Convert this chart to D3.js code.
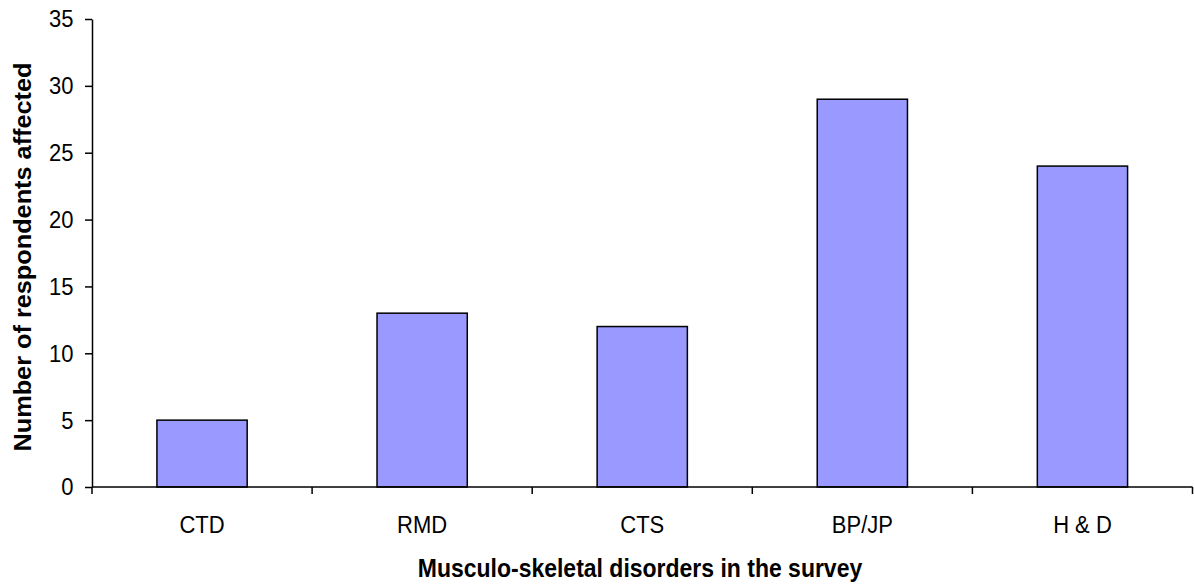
<!DOCTYPE html>
<html>
<head>
<meta charset="utf-8">
<script src="https://cdn.jsdelivr.net/npm/d3@7"></script>
<style>
  html, body { margin: 0; padding: 0; background: #fff; }
  svg { display: block; font-family: "Liberation Sans", Arial, sans-serif; }
</style>
</head>
<body>
<svg id="chart" width="1194" height="585"></svg>
<script>
// Musculo-skeletal disorders reported by respondents
const categories = ["CTD", "RMD", "CTS", "BP/JP", "H & D"];
const respondents = [5, 13, 12, 29, 24];
const yTicks = [0, 5, 10, 15, 20, 25, 30, 35];

const svg = d3.select("#chart");
const margin = { left: 92, right: 1.5, top: 19, bottom: 98 };
const W = 1194, H = 585;
const stretch = 1.1; // text is drawn slightly taller than wide

const x = d3.scaleBand()
  .domain(categories)
  .range([margin.left, W - margin.right])
  .paddingInner(0.59)
  .paddingOuter(0.295);

const y = d3.scaleLinear()
  .domain([0, 35])
  .range([H - margin.bottom, margin.top]);

// bars
svg.append("g")
  .selectAll("rect")
  .data(categories)
  .join("rect")
  .attr("x", (d) => x(d))
  .attr("y", (d, i) => y(respondents[i]))
  .attr("width", x.bandwidth())
  .attr("height", (d, i) => y(0) - y(respondents[i]))
  .attr("fill", "#9999ff")
  .attr("stroke", "#000")
  .attr("stroke-width", 1.5);

// y axis
const yAxis = svg.append("g")
  .attr("transform", `translate(${margin.left},0)`)
  .call(d3.axisLeft(y).tickValues(yTicks).tickSize(7).tickPadding(11.5).tickSizeOuter(0));
yAxis.select(".domain").attr("stroke-width", 1.5);
yAxis.selectAll(".tick line").attr("stroke-width", 1.5);
yAxis.selectAll(".tick text")
  .attr("font-size", 22)
  .attr("fill", "#000")
  .attr("font-family", "Liberation Sans, Arial, sans-serif")
  .attr("dy", "0.33em")
  .attr("transform", `scale(1,${stretch})`);

// x axis with ticks on category boundaries
const boundaries = d3.range(categories.length + 1).map((i) => margin.left + i * (W - margin.right - margin.left) / categories.length);
const xAxisG = svg.append("g").attr("transform", `translate(0,${y(0)})`);
xAxisG.append("line")
  .attr("x1", margin.left).attr("x2", W - margin.right)
  .attr("stroke", "#000").attr("stroke-width", 1.5);
xAxisG.selectAll(".bt")
  .data(boundaries)
  .join("line")
  .attr("class", "bt")
  .attr("x1", (d) => d).attr("x2", (d) => d)
  .attr("y1", 0).attr("y2", 7)
  .attr("stroke", "#000").attr("stroke-width", 1.5);
xAxisG.selectAll("text")
  .data(categories)
  .join("text")
  .attr("transform", (d) => `translate(${x(d) + x.bandwidth() / 2},46) scale(1,${stretch})`)
  .attr("text-anchor", "middle")
  .attr("font-size", 22)
  .attr("fill", "#000")
  .text((d) => d);

// axis titles
svg.append("text")
  .attr("transform", `translate(640,577) scale(1,${stretch})`)
  .attr("text-anchor", "middle")
  .attr("font-size", 23)
  .attr("font-weight", "bold")
  .text("Musculo-skeletal disorders in the survey");

svg.append("text")
  .attr("transform", `translate(31,257) scale(1,${stretch}) rotate(-90)`)
  .attr("text-anchor", "middle")
  .attr("font-size", 23)
  .attr("font-weight", "bold")
  .text("Number of respondents affected");
</script>
</body>
</html>
